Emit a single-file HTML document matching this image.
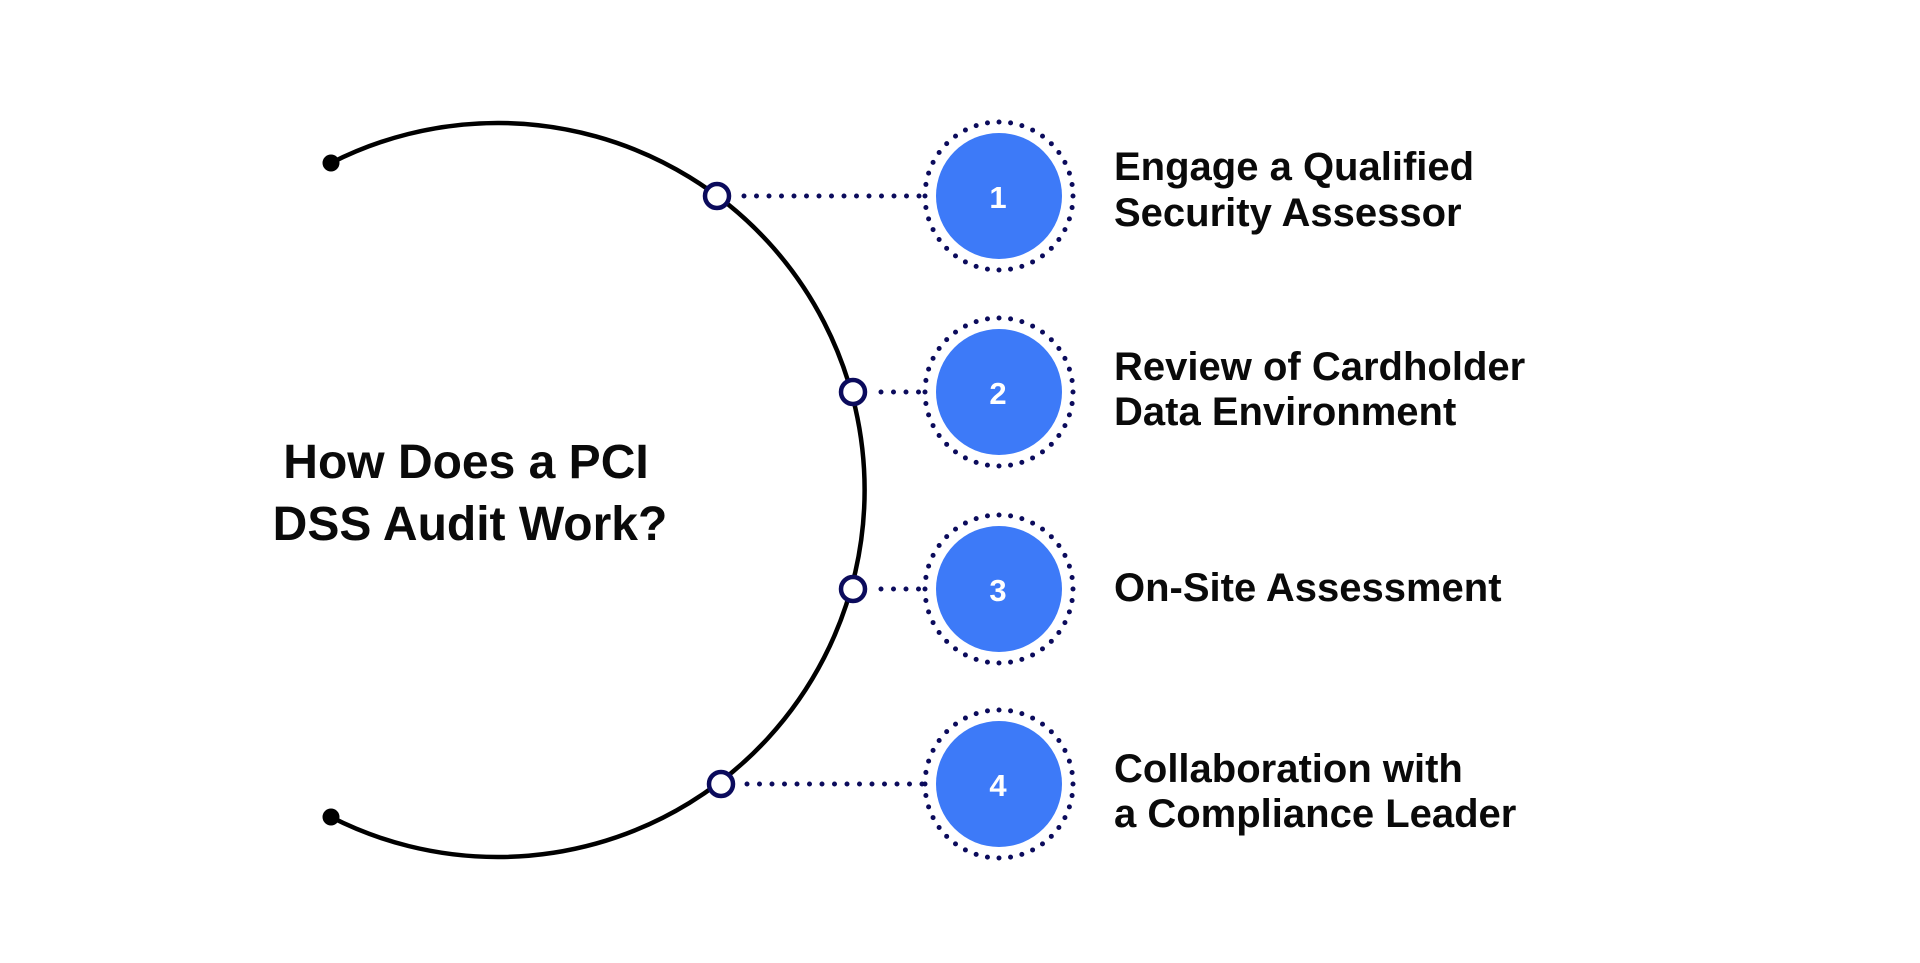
<!DOCTYPE html>
<html><head><meta charset="utf-8"><style>
html,body{margin:0;padding:0;background:#fff;}
svg{display:block;}
text{font-family:"Liberation Sans",sans-serif;font-weight:bold;}
</style></head><body>
<svg width="1920" height="963" viewBox="0 0 1920 963" xmlns="http://www.w3.org/2000/svg">
<rect width="1920" height="963" fill="#fff"/>
<path d="M331 163 A367 367 0 1 1 331 817" fill="none" stroke="#000" stroke-width="4.5"/>
<circle cx="331" cy="163" r="8.5" fill="#000"/>
<circle cx="331" cy="817" r="8.5" fill="#000"/>
<g fill="none" stroke="#0b0b5c" stroke-width="5" stroke-dasharray="0 12.5" stroke-linecap="round">
<line x1="744" y1="196" x2="925" y2="196"/>
<line x1="881" y1="392" x2="925" y2="392"/>
<line x1="881" y1="589" x2="925" y2="589"/>
<line x1="747" y1="784" x2="925" y2="784"/>
<circle cx="999" cy="196" r="74" stroke-dasharray="0 11.62"/>
<circle cx="999" cy="392" r="74" stroke-dasharray="0 11.62"/>
<circle cx="999" cy="589" r="74" stroke-dasharray="0 11.62"/>
<circle cx="999" cy="784" r="74" stroke-dasharray="0 11.62"/>
</g>
<g fill="#3d7af8">
<circle cx="999" cy="196" r="63"/>
<circle cx="999" cy="392" r="63"/>
<circle cx="999" cy="589" r="63"/>
<circle cx="999" cy="784" r="63"/>
</g>
<g fill="#fff" stroke="#0b0b5c" stroke-width="4.5">
<circle cx="717" cy="196" r="12"/>
<circle cx="853" cy="392" r="12"/>
<circle cx="853" cy="589" r="12"/>
<circle cx="721" cy="784" r="12"/>
</g>
<g fill="#fff" font-size="31" text-anchor="middle">
<text x="998" y="208">1</text>
<text x="998" y="404">2</text>
<text x="998" y="601">3</text>
<text x="998" y="796">4</text>
</g>
<g fill="#0a0a0a" font-size="40">
<text x="1114" y="180">Engage a Qualified</text>
<text x="1114" y="226">Security Assessor</text>
<text x="1114" y="380">Review of Cardholder</text>
<text x="1114" y="425">Data Environment</text>
<text x="1114" y="601">On-Site Assessment</text>
<text x="1114" y="782">Collaboration with</text>
<text x="1114" y="827">a Compliance Leader</text>
</g>
<g fill="#0a0a0a" font-size="48" text-anchor="middle">
<text x="466" y="478">How Does a PCI</text>
<text x="470" y="540">DSS Audit Work?</text>
</g>
</svg>
</body></html>
